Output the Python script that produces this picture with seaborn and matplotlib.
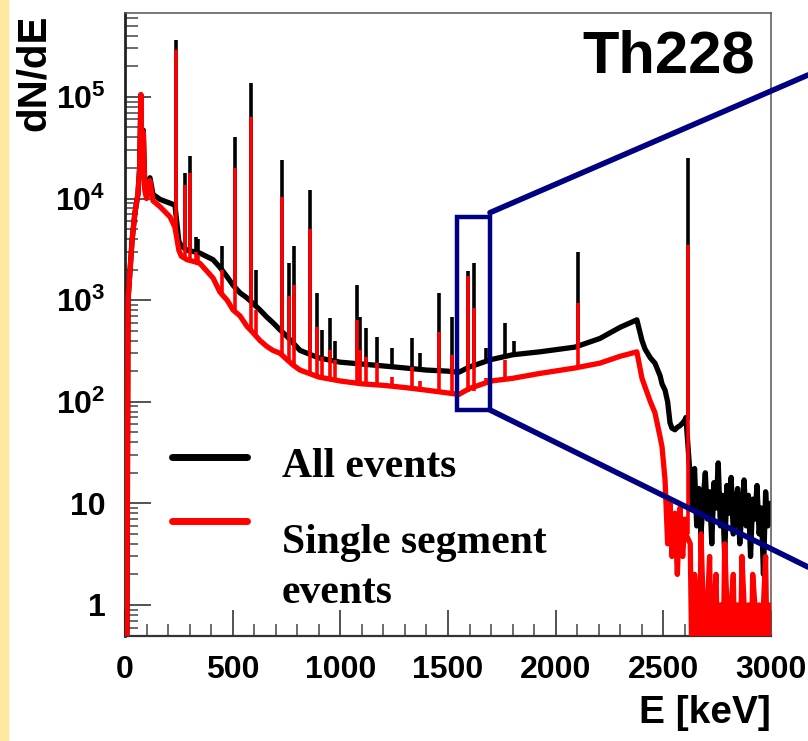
import numpy as np
import pandas as pd
import matplotlib
matplotlib.use("Agg")
import matplotlib.pyplot as plt
import seaborn as sns
from matplotlib.patches import Rectangle
from matplotlib.lines import Line2D
from matplotlib.ticker import FixedLocator, LogLocator, NullFormatter, FuncFormatter, MultipleLocator

# continuum of the spectrum (keV, counts)
cont_e = [0, 8, 14, 33, 46, 60, 68, 74, 79, 85, 92, 100, 116, 130, 163, 209, 232,
          250, 262, 288, 320, 348, 409, 441, 474, 502, 534, 567, 594, 627, 659, 687,
          720, 752, 780, 813, 900, 1000, 1100, 1200, 1300, 1400, 1500, 1550, 1600,
          1700, 1800, 1927, 2090, 2206, 2299, 2340, 2377, 2401, 2415, 2440, 2461,
          2485, 2494, 2508, 2520, 2531, 2540, 2554, 2565, 2577, 2590, 2600, 2605]
cont_all = [0, 0, 1000, 3900, 7200, 11000, 20000, 105000, 20000, 47000, 13000, 11000,
            16000, 11000, 9800, 9000, 8600, 3800, 3400, 3100, 3000, 2900, 2500, 2100,
            1700, 1400, 1180, 1050, 930, 800, 680, 600, 510, 440, 380, 320, 270, 245,
            235, 225, 215, 205, 200, 195, 220, 260, 290, 310, 345, 420, 540, 590, 640,
            400, 330, 270, 240, 180, 150, 130, 100, 62, 55, 53, 56, 58, 62, 66, 70]
cont_single = [0, 0, 1000, 3900, 7200, 11000, 20000, 105000, 18000, 45000, 12000, 10000,
               15000, 9500, 8300, 6600, 5200, 3100, 2700, 2500, 2400, 2300, 1650, 1200,
               1000, 800, 700, 550, 480, 400, 350, 320, 300, 260, 230, 205, 175, 160,
               150, 145, 138, 130, 122, 118, 135, 160, 170, 190, 215, 240, 280, 295, 310,
               170, 140, 100, 78, 45, 36, 17, 4, 10, 3, 8, 2, 9, 3, 7, 5]

# noisy tail above the 2614 keV line, 10 keV bins
tail_e = list(range(2625, 3000, 10))
tail_all = [18, 9, 22, 6, 14, 5, 11, 20, 7, 13, 4, 16, 9, 25, 6, 12, 3, 15, 8,
            18, 5, 10, 14, 4, 9, 17, 6, 12, 3, 11, 7, 15, 5, 9, 2, 13, 6, 10]
tail_single = [4, 0, 2, 1, 0, 5, 1, 0, 1, 3, 0, 1, 2, 0, 1, 0, 4, 1, 0,
               1, 2, 0, 1, 0, 3, 1, 0, 1, 0, 2, 1, 0, 1, 0, 1, 3, 0, 1]

# gamma lines: energy, continuum under it and peak top for both spectra
peak_e = [238, 277, 300, 328, 338, 450, 511, 583, 608, 727, 763, 785, 860, 893, 913,
          952, 975, 1078, 1093, 1120, 1172, 1240, 1332, 1370, 1460, 1518, 1593, 1620,
          1677, 1765, 1806, 2104, 2615]
peak_all_base = [8000, 3300, 3200, 3000, 2950, 2000, 1350, 1000, 900, 510, 440, 390,
                 300, 285, 275, 255, 250, 240, 238, 235, 232, 226, 215, 210, 200, 198,
                 210, 215, 255, 280, 295, 345, 66]
peak_all_top = [360000, 18000, 26000, 4200, 4000, 3400, 40000, 137000, 2000, 24000,
                2300, 3400, 12000, 1180, 510, 670, 400, 1400, 680, 530, 430, 340, 420,
                300, 1180, 680, 1950, 2330, 340, 590, 400, 2960, 25000]
peak_single_base = [5000, 2600, 2500, 2400, 2350, 1150, 780, 500, 430, 300, 260, 230,
                    190, 180, 175, 165, 160, 152, 151, 150, 147, 144, 138, 135, 128,
                    120, 125, 128, 150, 165, 172, 215, 5]
peak_single_top = [290000, 13500, 18000, 3000, 2800, 2000, 20000, 63000, 800, 10400,
                   1100, 1400, 5000, 540, 275, 320, 260, 640, 320, 275, 240, 175, 220,
                   160, 490, 290, 1730, 840, 170, 260, 175, 940, 3500]

zoom_e = (1542, 1695)
zoom_counts = (83, 6600)

all_df = pd.DataFrame({"E": cont_e + tail_e, "counts": cont_all + tail_all})
single_df = pd.DataFrame({"E": cont_e + tail_e, "counts": cont_single + tail_single})
all_df["counts"] = all_df["counts"].clip(lower=0.1)
single_df["counts"] = single_df["counts"].clip(lower=0.1)

sns.set_theme(style="ticks")
plt.rcParams["font.family"] = ["Liberation Sans", "DejaVu Sans"]
plt.rcParams["font.weight"] = "bold"
plt.rcParams["text.color"] = "black"
plt.rcParams["axes.labelcolor"] = "black"
plt.rcParams["xtick.color"] = "black"
plt.rcParams["ytick.color"] = "black"
plt.rcParams["mathtext.fontset"] = "custom"
plt.rcParams["mathtext.rm"] = "Liberation Sans:bold"
plt.rcParams["mathtext.bf"] = "Liberation Sans:bold"
plt.rcParams["mathtext.it"] = "Liberation Sans:bold"

fig = plt.figure(figsize=(8.08, 7.41), dpi=100)
fig.patches.append(Rectangle((0, 0), 8 / 808, 1, transform=fig.transFigure,
                             color="#FFE8A0", zorder=0))
ax = fig.add_axes([0.1547, 0.1417, 0.7995, 0.8408])
ax.set_yscale("log")

sns.lineplot(data=all_df, x="E", y="counts", ax=ax, color="black", lw=3.8,
             estimator=None, zorder=2)
ax.vlines(peak_e, peak_all_base, peak_all_top, colors="black", lw=2.6, zorder=2)
sns.lineplot(data=single_df, x="E", y="counts", ax=ax, color="#FF0000", lw=3.8,
             estimator=None, zorder=3)
ax.vlines(peak_e, peak_single_base, peak_single_top, colors="#FF0000", lw=2.6, zorder=3)

ax.set_xlim(0, 3000)
ax.set_ylim(0.495, 6.7e5)

# zoom box and the lines leading out of the frame
navy = "#000080"
ax.add_patch(Rectangle((zoom_e[0], zoom_counts[0]), zoom_e[1] - zoom_e[0],
                       zoom_counts[1] - zoom_counts[0], fill=False, ec=navy, lw=3.2, zorder=5))
to_fig = ax.transData + fig.transFigure.inverted()
top_corner = to_fig.transform((zoom_e[1], zoom_counts[1] * 1.1))
bottom_corner = to_fig.transform((zoom_e[1], zoom_counts[0]))
fig.add_artist(Line2D([top_corner[0], 1.0], [top_corner[1], 1 - 75 / 741],
                      transform=fig.transFigure, color=navy, lw=4, zorder=5))
fig.add_artist(Line2D([bottom_corner[0], 1.0], [bottom_corner[1], 1 - 567 / 741],
                      transform=fig.transFigure, color=navy, lw=4, zorder=5))

# axes frame in the ROOT style
ax.spines["left"].set_linewidth(2)
ax.spines["left"].set_color("#222222")
ax.spines["bottom"].set_linewidth(1.6)
ax.spines["bottom"].set_color("#333333")
for side in ["top", "right"]:
    ax.spines[side].set_visible(True)
    ax.spines[side].set_linewidth(1.1)
    ax.spines[side].set_color("#555555")

ax.xaxis.set_major_locator(MultipleLocator(500))
ax.xaxis.set_minor_locator(MultipleLocator(100))
ax.yaxis.set_major_locator(FixedLocator([1, 10, 100, 1e3, 1e4, 1e5]))
ax.yaxis.set_minor_locator(LogLocator(base=10, subs=range(2, 10)))
ax.yaxis.set_minor_formatter(NullFormatter())


def log_label(v, pos):
    if v == 1:
        return "1"
    if v == 10:
        return "10"
    return r"$10^{%d}$" % int(round(np.log10(v)))


ax.yaxis.set_major_formatter(FuncFormatter(log_label))
ax.tick_params(axis="both", which="major", direction="in", length=19, width=1.3,
               color="#444444", labelsize=23, labelcolor="black")
ax.tick_params(axis="both", which="minor", direction="in", length=9, width=1.1,
               color="#444444")
ax.tick_params(axis="x", which="major", pad=14)
ax.tick_params(axis="y", which="major", pad=14)
for lbl in ax.get_xticklabels() + ax.get_yticklabels():
    lbl.set_fontweight("bold")

ax.set_xlabel("E [keV]", loc="right", fontsize=28, fontweight="bold", color="black")
ax.xaxis.set_label_coords(1.0, -0.095)
ax.set_ylabel("dN/dE", loc="top", fontsize=29, fontweight="bold", color="black")
ax.yaxis.set_label_coords(-0.111, 0.997)

ax.text(0.975, 0.905, "Th228", transform=ax.transAxes, ha="right", va="baseline",
        fontsize=43, fontweight="bold", color="black")

# legend drawn by hand, ROOT TLegend look
ax.plot([0.0728, 0.189], [0.287, 0.287], transform=ax.transAxes, color="black", lw=5)
ax.plot([0.0728, 0.189], [0.1846, 0.1846], transform=ax.transAxes, color="#FF0000", lw=5)
serif = ["Liberation Serif", "DejaVu Serif"]
ax.text(0.243, 0.255, "All events", transform=ax.transAxes, ha="left", va="baseline",
        fontsize=30, fontweight="bold", family=serif, color="black")
ax.text(0.243, 0.133, "Single segment", transform=ax.transAxes, ha="left", va="baseline",
        fontsize=30, fontweight="bold", family=serif, color="black")
ax.text(0.243, 0.053, "events", transform=ax.transAxes, ha="left", va="baseline",
        fontsize=30, fontweight="bold", family=serif, color="black")

fig.savefig("out.png", dpi=100)
